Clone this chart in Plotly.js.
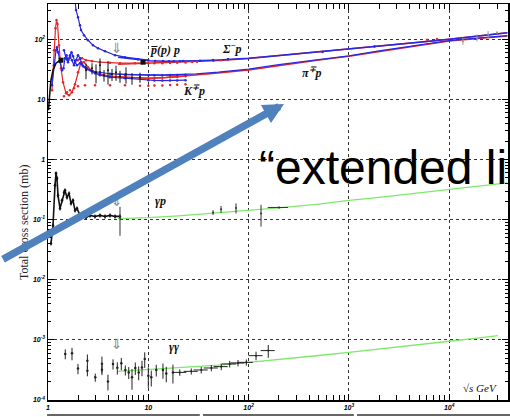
<!DOCTYPE html>
<html><head><meta charset="utf-8">
<script src="https://cdn.plot.ly/plotly-3.0.1.min.js"></script>
<style>html,body{margin:0;padding:0;background:#fff;overflow:hidden;} #chart{width:510px;height:417px;}</style>
</head><body><div id="chart"></div>
<script>
// ---------- fits (sqrt s in GeV, sigma in mb) ----------
const fitS       = [5, 7, 10, 15, 20, 30, 50, 100, 200, 500, 1000, 2000, 5000, 10000, 20000, 38000];
const pbarpFit   = [50.7, 46.9, 44.3, 43.5, 43.5, 44.3, 45.7, 48.8, 54.1, 62.1, 69.3, 77.0, 89.8, 100.8, 114.4, 129.8];
const ppFit      = [38.7, 39.5, 40.3, 41.1, 41.8, 42.9, 44.8, 48.3, 53.6, 61.7, 69.0, 76.7, 89.5, 100.5, 114.0, 129.4];
const piMinusFit = [26.4, 25.9, 25.4, 25.6, 26.0, 26.8, 28.5, 32.0, 38.0, 46.5, 53.5, 64.5, 80.5, 95.5, 106.0, 115.5];
const piPlusFit  = [23.5, 23.0, 22.6, 23.3, 24.2, 25.5, 27.6, 31.0, 37.0, 45.5, 52.5, 63.5, 79.5, 94.5, 105.0, 114.5];

const gpFitS = [5, 10, 20, 50, 100, 200, 500, 1000, 2000, 5000, 10000, 20000, 38000];
const gpFit  = [0.104, 0.108, 0.116, 0.130, 0.143, 0.158, 0.182, 0.210, 0.235, 0.278, 0.322, 0.365, 0.410];
const ggFitS = [5, 10, 20, 50, 100, 200, 500, 1000, 2000, 5000, 10000, 20000, 30700];
const ggFit  = [3.0e-4, 3.2e-4, 3.4e-4, 3.8e-4, 4.24e-4, 4.8e-4, 5.5e-4, 6.2e-4, 7.0e-4, 8.3e-4, 9.5e-4, 1.08e-3, 1.18e-3];

// ---------- hadronic data ----------
const pbarpLowS = [1.859, 1.901, 1.99, 2.085, 2.133, 2.285, 2.505, 2.81, 3.15, 3.70, 4.66, 5.86, 7.89, 10];
const pbarpLow  = [452, 308, 235, 173, 143, 118, 97.3, 80.4, 71.6, 63.8, 54.7, 50.7, 47.0, 45.2];
const pbarpMidS = [11.7, 14.0, 16.1, 18.0, 20.7, 22.2, 32.8, 44.2, 62.3, 546, 1800];
const pbarpMid  = [44.0, 43.6, 43.5, 43.5, 43.4, 43.6, 44.4, 45.6, 47.0, 62.0, 76.5];
const pbarpErr  = [1.5, 1.5, 1.2, 1.2, 1.0, 1.0, 1.0, 1.2, 1.5, 1.5, 2.5];

const ppLowS = [1.991, 2.183, 2.392, 2.746, 3.30, 4.152, 5.222, 7.368, 10];
const ppLow  = [45.2, 48.8, 45.2, 43.5, 41.8, 41.1, 40.3, 40.3, 40.3];
const ppMidS = [11.5, 13.8, 16.5, 19.4, 23.5, 27.4, 30.6, 44.7, 52.8, 62.5, 6010, 7550];
const ppMid  = [40.0, 40.2, 40.6, 41.0, 41.5, 42.0, 42.7, 44.3, 45.2, 46.7, 98.5, 101.5];
const ppErr  = [1.0, 1.0, 1.0, 1.0, 1.0, 1.0, 1.0, 1.0, 1.0, 1.2, 2.5, 2.5];

const cosmicS   = [13700, 18900, 24400, 30000];
const cosmicSig = [93.7, 107, 122, 130];
const cosmicErr = [12, 14, 16, 6];

const piPlusS = [1.096, 1.148, 1.188, 1.215, 1.244, 1.287, 1.348, 1.411, 1.512, 1.620, 1.735, 1.859, 1.991, 2.133, 2.285, 2.505, 2.810, 3.30, 4.152, 5.857, 8.265, 10, 11.5, 13.8, 16.5, 19.4, 23.5];
const piPlus  = [14.3, 66.3, 154, 210, 180, 80.4, 33.2, 19.4, 12.7, 11.8, 13.2, 18.0, 28.5, 41.8, 41.8, 34.5, 29.6, 26.4, 24.5, 23.5, 23.1, 22.6, 22.8, 23.0, 23.4, 23.8, 24.4];

const piMinusS = [1.096, 1.148, 1.202, 1.229, 1.258, 1.317, 1.379, 1.427, 1.477, 1.529, 1.582, 1.657, 1.715, 1.775, 1.859, 1.946, 2.085, 2.234, 2.447, 2.746, 3.30, 4.152, 5.857, 10, 11.5, 13.8, 16.5, 19.4, 23.5];
const piMinus  = [17.3, 37.3, 66.3, 74.4, 61.4, 41.8, 30.8, 33.2, 48.8, 54.7, 45.2, 54.7, 61.4, 52.7, 41.8, 37.3, 40.3, 35.9, 32.0, 29.6, 28.5, 26.9, 25.9, 25.4, 25.3, 25.4, 25.5, 25.6, 25.9];

const kPlusS = [1.444, 1.546, 1.657, 1.816, 1.991, 2.338, 2.942, 4.152, 5.857, 8.265, 10, 11.5, 13.8, 16.5, 19.4, 23.5];
const kPlus  = [11.4, 13.2, 14.3, 15.4, 16.7, 17.3, 17.3, 17.3, 17.3, 17.0, 17.0, 17.1, 17.2, 17.4, 17.6, 18.0];

const kMinusS = [1.444, 1.512, 1.582, 1.657, 1.735, 1.816, 1.902, 1.991, 2.085, 2.183, 2.338, 2.623, 2.942, 3.30, 4.152, 5.857, 10, 11.5, 13.8, 16.5, 19.4, 23.5];
const kMinus  = [66.3, 48.8, 41.8, 50.7, 45.2, 37.3, 45.2, 54.7, 48.8, 38.8, 34.5, 30.8, 27.4, 25.4, 23.5, 22.6, 21.0, 20.8, 20.7, 20.7, 20.8, 21.0];

const blackLowS = [1.012, 1.023, 1.047, 1.071, 1.122, 1.202, 1.317, 1.379];
const blackLow  = [6.63, 9.73, 14.3, 21.0, 30.8, 40.3, 45.2, 43.5];
const blackPtsS = [2.392, 2.746, 3.010, 3.30, 3.617, 3.965, 4.346, 4.764, 5.222, 5.993, 6.879, 8.265];
const blackPts  = [30.8, 33.2, 28.5, 37.3, 25.4, 30.8, 26.4, 28.5, 24.5, 26.4, 22.6, 23.5];
const blackErr  = [9, 7, 10, 11, 5.5, 13, 6, 8, 5.5, 8, 5, 4.5];
const sigmaS = [1.348, 8.856];
const sigmaV = [45.2, 41.8];

// ---------- gamma p ----------
const gpLowS = [1.071, 1.122, 1.174, 1.202, 1.229, 1.258, 1.317, 1.379, 1.444, 1.477, 1.546, 1.620, 1.696, 1.775, 1.859, 1.946, 2.085, 2.233, 2.393, 2.623, 2.941, 3.30, 3.70, 4.15, 4.66, 5.22];
const gpLow  = [0.0403, 0.0804, 0.373, 0.591, 0.488, 0.254, 0.154, 0.210, 0.285, 0.308, 0.235, 0.274, 0.187, 0.210, 0.143, 0.154, 0.118, 0.127, 0.109, 0.118, 0.1135, 0.118, 0.1135, 0.118, 0.1135, 0.1135];
const gpErrS = [5.22, 44.2, 53.1, 74.9, 133, 201];
const gpErrV = [0.109, 0.132, 0.149, 0.157, 0.127, 0.160];
const gpErrE = [0.055, 0.012, 0.02, 0.03, 0.05, 0.005];
const gpErrX = [0, 0, 0, 0, 0, 46];

// ---------- gamma gamma ----------
const ggS   = [1.487, 1.735, 1.99, 2.47, 2.47, 2.96, 3.45, 3.45, 3.96, 4.45, 4.91, 5.38, 5.90, 6.38, 6.88, 7.42, 8.02, 8.65, 9.21, 10.0, 10.7, 12.0, 14.0, 15.1, 17.6];
const ggSig = [5.85e-4, 5.98e-4, 3.33e-4, 4.52e-4, 3.08e-4, 2.38e-4, 4.03e-4, 3.2e-4, 2.04e-4, 3.98e-4, 3.45e-4, 4.07e-4, 3.16e-4, 2.88e-4, 2.38e-4, 3.41e-4, 2.88e-4, 3.49e-4, 4.82e-4, 2.54e-4, 2.38e-4, 3.16e-4, 3.16e-4, 2.77e-4, 2.88e-4];
const ggErr = [1.1e-4, 1.4e-4, 0.65e-4, 1.2e-4, 0.6e-4, 0.37e-4, 1.25e-4, 0.6e-4, 0.6e-4, 0.77e-4, 0.8e-4, 0.95e-4, 0.6e-4, 0.65e-4, 0.9e-4, 0.8e-4, 0.75e-4, 1.0e-4, 1.4e-4, 0.95e-4, 0.7e-4, 0.7e-4, 0.9e-4, 0.8e-4, 1.0e-4];
const ggHiS   = [20.6, 26.8, 33.7, 42.5, 53.4, 64.8, 78.4, 94.9, 118.6, 157];
const ggHiSig = [2.88e-4, 3.0e-4, 3.16e-4, 3.41e-4, 3.59e-4, 3.98e-4, 4.14e-4, 4.23e-4, 5.47e-4, 6.64e-4];
const ggHiErr = [0.35e-4, 0.35e-4, 0.4e-4, 0.4e-4, 0.45e-4, 0.5e-4, 0.5e-4, 0.5e-4, 0.9e-4, 1.6e-4];

// ---------- axis labels ----------
const xTickVals = [1, 10, 100, 1000, 10000];
const xTickText = ['1', '10', '10<sup>2</sup>', '10<sup>3</sup>', '10<sup>4</sup>'];
const yTickVals = [1e-4, 1e-3, 1e-2, 1e-1, 1, 10, 100];
const yTickText = ['10<sup>-4</sup>', '10<sup>-3</sup>', '10<sup>-2</sup>', '10<sup>-1</sup>', '1', '10', '10<sup>2</sup>'];

function minorVals(lo, hi) { const v = []; for (let d = lo; d <= hi; d++) for (let k = 2; k <= 9; k++) v.push(k * Math.pow(10, d)); return v; }

const RED = 'rgb(228,40,40)', BLUE = 'rgb(40,40,228)', GREEN = 'rgb(125,232,105)', BLK = '#111';

function line(x, y, color, w) { return {x, y, type: 'scatter', mode: 'lines', line: {color, width: w || 1.4}, hoverinfo: 'skip'}; }
function pts(x, y, color, mode, size, lw, err, errx) {
  const t = {x, y, type: 'scatter', mode: mode, marker: {color, size: size || 2.5}, line: {color, width: lw || 1}, hoverinfo: 'skip'};
  if (err) t.error_y = {type: 'data', array: err, visible: true, color, thickness: 1, width: 0};
  if (errx) t.error_x = errx;
  return t;
}

const traces = [
  line(fitS, ppFit, RED, 1.5),
  line(fitS, pbarpFit, BLUE, 1.5),
  line(fitS, piPlusFit, RED, 1.5),
  line(fitS, piMinusFit, BLUE, 1.3),
  line(gpFitS, gpFit, GREEN, 1.3),
  line(ggFitS, ggFit, GREEN, 1.3),
  pts(kPlusS, kPlus, RED, 'markers', 2.5),
  pts(piPlusS, piPlus, RED, 'lines+markers', 2.5, 1.2),
  pts(ppLowS, ppLow, RED, 'lines+markers', 2.5, 1.2),
  pts(ppMidS, ppMid, RED, 'markers', 2.5, 1, ppErr),
  pts(kMinusS, kMinus, BLUE, 'lines+markers', 2.5, 1.2),
  pts(piMinusS, piMinus, BLUE, 'lines+markers', 2.5, 1.2),
  pts(pbarpLowS, pbarpLow, BLUE, 'lines+markers', 2.5, 1.2),
  pts(pbarpMidS, pbarpMid, BLUE, 'markers', 2.5, 1, pbarpErr),
  pts(cosmicS, cosmicSig, '#999', 'markers', 2, 1, cosmicErr),
  pts(blackLowS, blackLow, BLK, 'lines', 2, 1.6),
  pts(blackPtsS, blackPts, BLK, 'markers', 2, 1, blackErr),
  {x: sigmaS, y: sigmaV, type: 'scatter', mode: 'markers', marker: {color: BLK, size: 5, symbol: 'square'}, hoverinfo: 'skip'},
  pts(gpLowS, gpLow, BLK, 'lines+markers', 2.5, 1.6, gpLow.map(v => v * 0.08)),
  pts(gpErrS, gpErrV, '#333', 'markers', 2, 1, gpErrE, {type: 'data', array: gpErrX, visible: true, color: '#333', thickness: 1, width: 0}),
  pts(ggS, ggSig, '#222', 'markers', 2.5, 1, ggErr),
  pts(ggHiS, ggHiSig, '#222', 'markers', 2, 1, ggHiErr, {type: 'percent', value: 16, visible: true, color: '#222', thickness: 1, width: 0})
];

const tickFont = {family: 'Liberation Sans, Arial, sans-serif', size: 7, color: '#000', weight: 'bold', style: 'italic'};
const lblFont = {family: 'Liberation Serif, Times New Roman, serif', size: 12, color: '#111'};

function axisBase() {
  return {type: 'log', ticks: 'inside', ticklen: 6, tickwidth: 1, tickcolor: '#000', showline: true, linecolor: '#000', linewidth: 1.5,
    mirror: 'ticks', showgrid: true, gridcolor: '#333', griddash: 'dot', gridwidth: 1, zeroline: false, tickfont: tickFont, fixedrange: true};
}
const xaxis = Object.assign(axisBase(), {range: [0, 4.586], tickvals: xTickVals, ticktext: xTickText,
  minor: {tickvals: minorVals(0, 4), ticks: 'inside', ticklen: 5, tickcolor: '#000', showgrid: false}});
const yaxis = Object.assign(axisBase(), {range: [-4, 2.59], tickvals: yTickVals, ticktext: yTickText,
  minor: {tickvals: minorVals(-4, 2), ticks: 'inside', ticklen: 3, tickcolor: '#000', showgrid: false}});

function lbl(text, x, y, extra) {
  return Object.assign({text, x, y, xref: 'x', yref: 'y', showarrow: false, font: lblFont, xanchor: 'center', yanchor: 'middle'}, extra || {});
}
const arrowFont = {family: 'DejaVu Sans, sans-serif', size: 14, color: '#888'};

const annotations = [
  lbl('<b><i>p̅</i></b><b><i>(p) p</i></b>', 1.167, 1.822),
  lbl('<b><i>Σ<sup>−</sup>p</i></b>', 1.835, 1.855),
  lbl('<b><i>K<sup>∓</sup>p</i></b>', 1.456, 1.155),
  lbl('<b><i>π<sup>∓</sup>p</i></b>', 2.632, 1.455),
  lbl('<b><i>γp</i></b>', 1.117, -0.695),
  lbl('<b><i>γγ</i></b>', 1.256, -3.112),
  lbl('⇓', 0.688, 1.855, {font: arrowFont}),
  lbl('⇓', 0.688, -0.695, {font: arrowFont}),
  lbl('⇓', 0.688, -3.062, {font: arrowFont}),
  lbl('<i>√s GeV</i>', 4.307, -3.795, {font: {family: 'Liberation Serif, serif', size: 11, color: '#111'}}),
  {text: 'Total cross section (mb)', xref: 'paper', yref: 'paper', x: -0.052, y: 0.447, textangle: -90, showarrow: false,
    font: {family: 'Liberation Serif, Times New Roman, serif', size: 12, color: '#222'}, xanchor: 'center', yanchor: 'middle'},
  {text: ' ', xref: 'paper', yref: 'paper', x: 0.513, y: 0.7475, ax: -294, ay: 157, axref: 'pixel', ayref: 'pixel',
    showarrow: true, arrowhead: 2, arrowsize: 0.55, arrowwidth: 7.5, arrowcolor: '#4F81BD', standoff: 0},
  {text: '“extended li', xref: 'paper', yref: 'paper', x: 0.4545, y: 0.588, xanchor: 'left', yanchor: 'middle', showarrow: false,
    font: {family: 'Liberation Sans, Arial, sans-serif', size: 48, color: '#000'}}
];

const shapes = [
  {type: 'line', xref: 'paper', yref: 'paper', x0: -0.002, x1: 0.330, y0: -0.038, y1: -0.038, line: {color: '#333', width: 1.5}},
  {type: 'line', xref: 'paper', yref: 'paper', x0: 0.337, x1: 0.665, y0: -0.038, y1: -0.038, line: {color: '#333', width: 1.5}},
  {type: 'line', xref: 'paper', yref: 'paper', x0: 0.672, x1: 1.005, y0: -0.038, y1: -0.038, line: {color: '#333', width: 1.5}}
];

const layout = {
  width: 510, height: 417,
  margin: {l: 48, r: 2, t: 4, b: 17},
  paper_bgcolor: '#fff', plot_bgcolor: '#fff',
  showlegend: false,
  xaxis, yaxis, annotations, shapes
};

Plotly.newPlot('chart', traces, layout, {staticPlot: true, displayModeBar: false});
</script>
</body></html>
